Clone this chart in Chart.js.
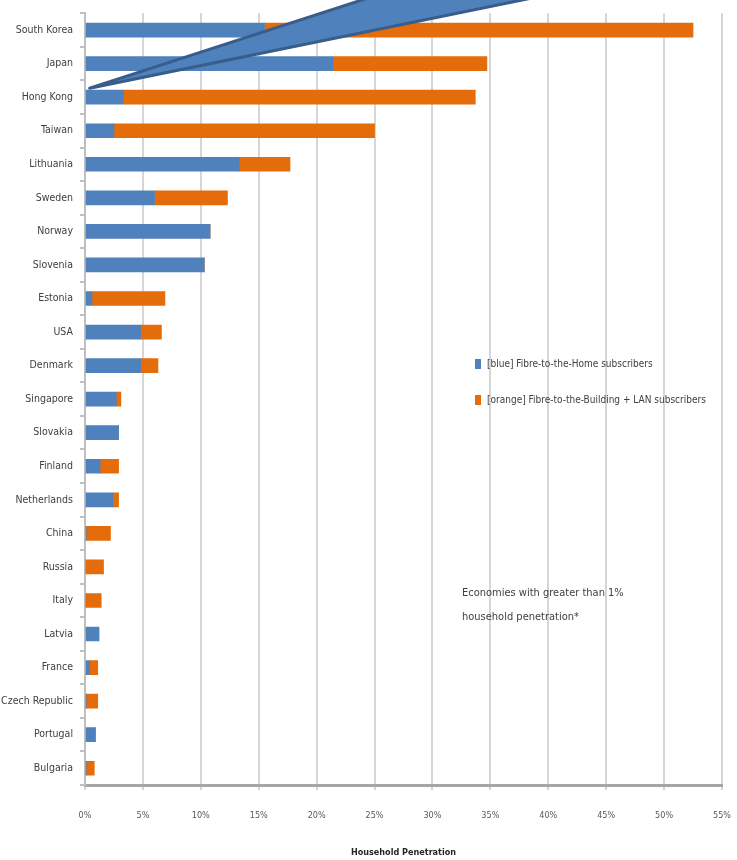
<!DOCTYPE html>
<html>
<head>
<meta charset="utf-8">
<script src="https://cdn.jsdelivr.net/npm/chart.js@4/dist/chart.umd.min.js"></script>
<style>
	html, body { margin: 0; padding: 0; background: #fff; overflow: hidden; }
	#chart { display: block; }
</style>
</head>
<body>
<canvas id="chart" width="737" height="860"></canvas>
<script>
const countries = [
	'South Korea', 'Japan', 'Hong Kong', 'Taiwan', 'Lithuania', 'Sweden', 'Norway', 'Slovenia',
	'Estonia', 'USA', 'Denmark', 'Singapore', 'Slovakia', 'Finland', 'Netherlands', 'China',
	'Russia', 'Italy', 'Latvia', 'France', 'Czech Republic', 'Portugal', 'Bulgaria'
];
// [blue] fibre-to-the-home, % of households
const ftth = [15.5, 21.4, 3.3, 2.5, 13.3, 6.0, 10.8, 10.3, 0.6, 4.8, 4.8, 2.7, 2.9, 1.3, 2.4, 0.1, 0, 0, 1.2, 0.4, 0.1, 0.9, 0.1];
// [orange] fibre-to-the-building + LAN, % of households
const fttb = [37.0, 13.3, 30.4, 22.5, 4.4, 6.3, 0, 0, 6.3, 1.8, 1.5, 0.4, 0, 1.6, 0.5, 2.1, 1.6, 1.4, 0, 0.7, 1.0, 0, 0.7];
const seriesNames = [
	'[blue] Fibre-to-the-Home subscribers',
	'[orange] Fibre-to-the-Building + LAN subscribers'
];
const axisTitle = 'Household Penetration';
const noteLines = ['Economies with greater than 1%', 'household penetration*'];

const blue = '#4f81bd';
const orange = '#e46c0a';
const labelFont = '"Liberation Sans Narrow", "DejaVu Sans Condensed", sans-serif';

// callout pointer + in-chart legend + note
const extras = {
	id: 'extras',
	afterDatasetsDraw(chart) {
		const ctx = chart.ctx;
		const x = chart.scales.x, y = chart.scales.y;

		// callout wedge coming down from the top edge to Hong Kong
		const tipX = x.getPixelForValue(0.4);
		const tipY = y.getPixelForValue(2) - 9;
		ctx.save();
		ctx.beginPath();
		ctx.moveTo(tipX, tipY);
		ctx.lineTo(368, -2);
		ctx.lineTo(532, -2);
		ctx.closePath();
		ctx.fillStyle = blue;
		ctx.fill();
		ctx.lineWidth = 3;
		ctx.lineJoin = 'round';
		ctx.strokeStyle = '#385d8a';
		ctx.stroke();
		ctx.restore();
	},
	afterDraw(chart) {
		const ctx = chart.ctx;
		ctx.save();
		ctx.font = '10px ' + labelFont;
		ctx.textBaseline = 'middle';
		chart.data.datasets.forEach((ds, i) => {
			const ly = 364 + i * 36;
			ctx.fillStyle = ds.backgroundColor;
			ctx.fillRect(475, ly - 5, 6, 10);
			ctx.fillStyle = '#404040';
			ctx.fillText(ds.label, 487, ly);
		});
		ctx.font = '11px ' + labelFont;
		noteLines.forEach((t, i) => ctx.fillText(t, 462, 593 + i * 24));
		ctx.restore();
	}
};

window.onload = function() {
	const canvas = document.getElementById('chart');
	new Chart(canvas.getContext('2d'), {
		type: 'bar',
		data: {
			labels: countries,
			datasets: [
				{ label: seriesNames[0], data: ftth, backgroundColor: blue },
				{ label: seriesNames[1], data: fttb, backgroundColor: orange },
			],
		},
		options: {
			indexAxis: 'y',
			responsive: false,
			animation: false,
			layout: { padding: { top: 13, right: 0, left: 0, bottom: 0 } },
			datasets: { bar: { barThickness: 14 } },
			plugins: {
				legend: { display: false },
				tooltip: { enabled: false },
			},
			scales: {
				x: {
					stacked: true,
					min: 0,
					max: 55,
					ticks: {
						stepSize: 5,
						padding: 20,
						color: '#595959',
						font: { size: 9, family: labelFont },
						callback: v => v + '%',
					},
					grid: { color: '#d6d6d6', lineWidth: 2, tickLength: 5 },
					border: { color: '#a6a6a6', width: 3 },
					title: {
						display: true,
						text: axisTitle,
						color: '#262626',
						font: { size: 9, weight: 'bold', family: labelFont },
						padding: { top: 0, bottom: 2 },
					},
					afterFit(scale) {
						scale.height = 75;
						scale.paddingRight = 15;
					},
				},
				y: {
					stacked: true,
					ticks: {
						padding: 7,
						color: '#404040',
						font: { size: 10.5, family: labelFont },
					},
					grid: { offset: true, drawOnChartArea: false, tickLength: 5, color: '#bfbfbf', lineWidth: 2 },
					border: { color: '#bfbfbf', width: 2 },
					afterFit(scale) { scale.width = 85; },
				},
			},
		},
		plugins: [extras],
	});
};
</script>
</body>
</html>
